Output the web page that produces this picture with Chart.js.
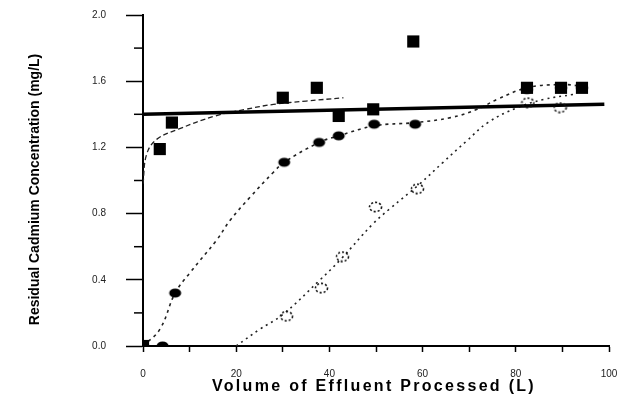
<!DOCTYPE html>
<html>
<head>
<meta charset="utf-8">
<script src="https://cdn.jsdelivr.net/npm/chart.js@4.4.0/dist/chart.umd.min.js"></script>
<style>
  html, body { margin: 0; padding: 0; background: #fff; }
  #wrap { width: 619px; height: 396px; }
</style>
</head>
<body>
<div id="wrap"><canvas id="cadmium" width="619" height="396"></canvas></div>
<script>
// Measured points (volume in L, residual Cd in mg/L)
const squareX = [0, 3.6, 6.2, 30, 37.3, 42, 49.4, 58, 82.4, 89.7, 94.2];
const squareY = [0, 1.19, 1.35, 1.50, 1.56, 1.39, 1.43, 1.84, 1.56, 1.56, 1.56];

const dotX = [0, 4.2, 6.9, 30.3, 37.8, 42, 49.6, 58.4, 82.4, 89.7, 94.2];
const dotY = [0, 0, 0.32, 1.11, 1.23, 1.27, 1.34, 1.34, 1.55, 1.56, 1.56];

const openX = [30.8, 38.3, 42.8, 49.9, 58.9, 82.6, 89.5];
const openY = [0.18, 0.35, 0.54, 0.84, 0.95, 1.47, 1.44];

// Fitted curves
const squareFitX = [0, 0.8, 3, 7.6, 15.5, 22, 28, 35, 43];
const squareFitY = [0.98, 1.16, 1.25, 1.31, 1.39, 1.43, 1.46, 1.48, 1.50];

const dotFitX = [0, 3.6, 6.9, 10, 15.8, 18.7, 23, 28, 30.3, 37.8, 42, 49.6, 58.4, 66, 71.7, 76, 82.4, 89.7, 94.2];
const dotFitY = [0, 0.10, 0.32, 0.44, 0.64, 0.76, 0.90, 1.05, 1.11, 1.23, 1.27, 1.33, 1.35, 1.38, 1.43, 1.49, 1.56, 1.58, 1.57];

const openFitX = [20, 25, 30, 38, 42.3, 49.4, 53, 59.4, 64.4, 69.5, 74, 80.3, 86, 92.3];
const openFitY = [0, 0.10, 0.19, 0.40, 0.52, 0.74, 0.83, 0.98, 1.11, 1.24, 1.35, 1.44, 1.49, 1.52];

// the thick solid reference line
const limitX = [0, 99];
const limitY = [1.40, 1.46];

const yMinorTicks = [0.2, 0.6, 1.0, 1.4, 1.8];
const xTitle = 'Volume of Effluent Processed (L)';
const yTitle = 'Residual Cadmium Concentration (mg/L)';

const toPoints = (xs, ys) => xs.map((v, i) => ({ x: v, y: ys[i] }));

// little marker images
function ellipseMarker(filled) {
    const c = document.createElement('canvas');
    c.width = 15; c.height = 12;
    const g = c.getContext('2d');
    g.beginPath();
    g.ellipse(7.5, 6, 6, 4.6, 0, 0, Math.PI * 2);
    if (filled) {
        g.fillStyle = '#000';
        g.fill();
    } else {
        g.strokeStyle = '#111';
        g.lineWidth = 1.6;
        g.setLineDash([2, 2]);
        g.stroke();
    }
    return c;
}

const fontFam = '"Liberation Sans", Arial, sans-serif';

const extras = {
    id: 'extras',
    afterDraw(chart) {
        const ctx = chart.ctx;
        const xs = chart.scales.x, ys = chart.scales.y;
        ctx.save();
        // short minor ticks on the y axis
        ctx.strokeStyle = '#000';
        ctx.lineWidth = 1.5;
        yMinorTicks.forEach(v => {
            const py = ys.getPixelForValue(v);
            ctx.beginPath();
            ctx.moveTo(xs.left - 9, py);
            ctx.lineTo(xs.left, py);
            ctx.stroke();
        });
        // axis titles
        ctx.fillStyle = '#000';
        ctx.textAlign = 'center';
        ctx.textBaseline = 'middle';
        ctx.font = 'bold 16px ' + fontFam;
        ctx.letterSpacing = '2.3px';
        ctx.fillText(xTitle, 374, 387);
        ctx.letterSpacing = '0px';
        ctx.font = 'bold 14px ' + fontFam;
        ctx.translate(35, (ys.top + ys.bottom) / 2 + 9);
        ctx.rotate(-Math.PI / 2);
        ctx.fillText(yTitle, 0, 0);
        ctx.restore();
    }
};

const fitLine = (xs, ys, dash, width) => ({
    data: toPoints(xs, ys),
    showLine: true,
    borderColor: '#222',
    borderWidth: width,
    borderDash: dash,
    tension: 0.4,
    pointRadius: 0
});

const chartdata = {
    datasets: [
        {
            data: toPoints(squareX, squareY),
            pointStyle: 'rect',
            pointRadius: 8.6,
            backgroundColor: '#000',
            borderColor: '#000',
            borderWidth: 0,
            showLine: false
        },
        {
            data: toPoints(dotX, dotY),
            pointStyle: ellipseMarker(true),
            showLine: false
        },
        {
            data: toPoints(openX, openY),
            pointStyle: ellipseMarker(false),
            showLine: false
        },
        {
            data: toPoints(limitX, limitY),
            showLine: true,
            borderColor: '#000',
            borderWidth: 3.5,
            pointRadius: 0
        },
        fitLine(squareFitX, squareFitY, [5, 3], 1.3),
        fitLine(dotFitX, dotFitY, [3, 4], 1.6),
        fitLine(openFitX, openFitY, [2, 4], 1.6)
    ]
};

const chartconfig = {
    type: 'scatter',
    data: chartdata,
    options: {
        responsive: false,
        animation: false,
        layout: { padding: { top: 15, right: 10, left: 0, bottom: 0 } },
        plugins: {
            legend: { display: false },
            tooltip: { enabled: false }
        },
        scales: {
            x: {
                type: 'linear',
                min: 0,
                max: 100,
                afterFit: s => { s.height = 50; s.paddingLeft = 0; s.paddingRight = 0; },
                border: { color: '#000', width: 2 },
                grid: { drawOnChartArea: false, tickLength: 6, tickColor: '#000', tickWidth: 1.5 },
                ticks: {
                    stepSize: 10,
                    padding: 16,
                    color: '#222',
                    font: { family: fontFam, size: 10 },
                    callback: v => (v % 20 === 0 ? String(v) : '')
                }
            },
            y: {
                type: 'linear',
                min: 0,
                max: 2.0,
                afterFit: s => { s.width = 143; s.paddingTop = 0; s.paddingBottom = 0; },
                border: { color: '#000', width: 2 },
                grid: { drawOnChartArea: false, tickLength: 17, tickColor: '#000', tickWidth: 1.5 },
                ticks: {
                    stepSize: 0.4,
                    padding: 20,
                    color: '#222',
                    font: { family: fontFam, size: 10 },
                    callback: v => v.toFixed(1)
                }
            }
        }
    },
    plugins: [extras]
};

const chart = new Chart('cadmium', chartconfig);
</script>
</body>
</html>
